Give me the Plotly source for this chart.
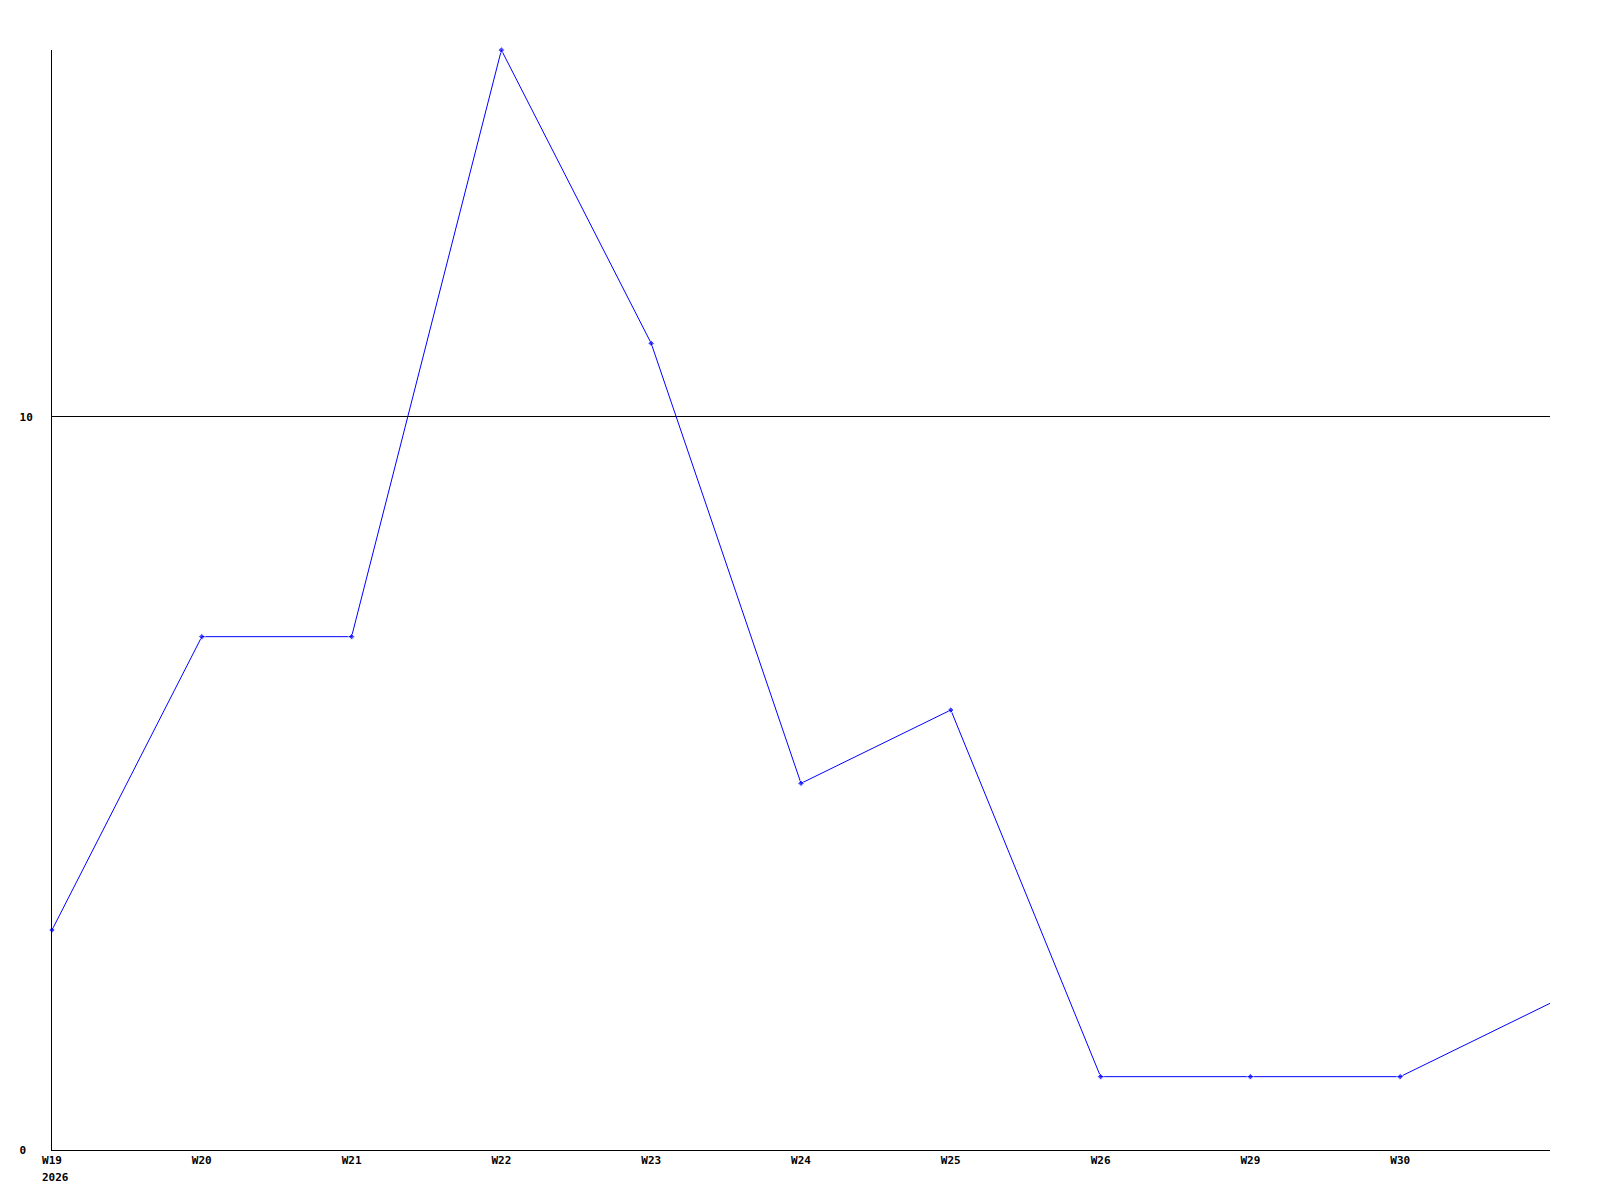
import plotly.graph_objects as go

categories = ["W19", "W20", "W21", "W22", "W23", "W24", "W25", "W26", "W29", "W30", ""]
values = [3, 7, 7, 15, 11, 5, 6, 1, 1, 1, 2]
year_label = "2026"
y_ticks = [0, 10]
y_ticktext = ["0\u00a0", "10"]

x_idx = list(range(len(categories)))
marker_sizes = [5] * (len(values) - 1) + [0]

fig = go.Figure()
fig.add_trace(go.Scatter(
    x=x_idx, y=values, mode="lines+markers",
    line=dict(color="#0000FF", width=1),
    marker=dict(color="#0000FF", size=marker_sizes, symbol="diamond"),
    hoverinfo="skip", showlegend=False, cliponaxis=False,
))

font = dict(family="DejaVu Sans Mono", size=11, color="black", weight="bold")

fig.update_layout(
    width=1592, height=1192,
    margin=dict(l=40, r=50, t=42, b=50),
    paper_bgcolor="white", plot_bgcolor="white",
    font=font,
    xaxis=dict(
        range=[0, len(categories) - 1],
        tickvals=x_idx[:-1], ticktext=categories[:-1],
        showgrid=False, zeroline=False,
        showline=True, linecolor="black", linewidth=1,
        ticks="", tickfont=font,
    ),
    yaxis=dict(
        range=[0, 15],
        tickvals=y_ticks, ticktext=y_ticktext,
        showgrid=True, gridcolor="black", gridwidth=1,
        zeroline=False,
        showline=True, linecolor="black", linewidth=1,
        ticks="", tickfont=font, ticklabelstandoff=16,
    ),
    annotations=[dict(
        x=0, y=0, xref="x", yref="paper", text=year_label,
        showarrow=False, xanchor="left", yanchor="top",
        xshift=-12, yshift=-19, font=font,
    )],
)

fig.write_html("out.html")
